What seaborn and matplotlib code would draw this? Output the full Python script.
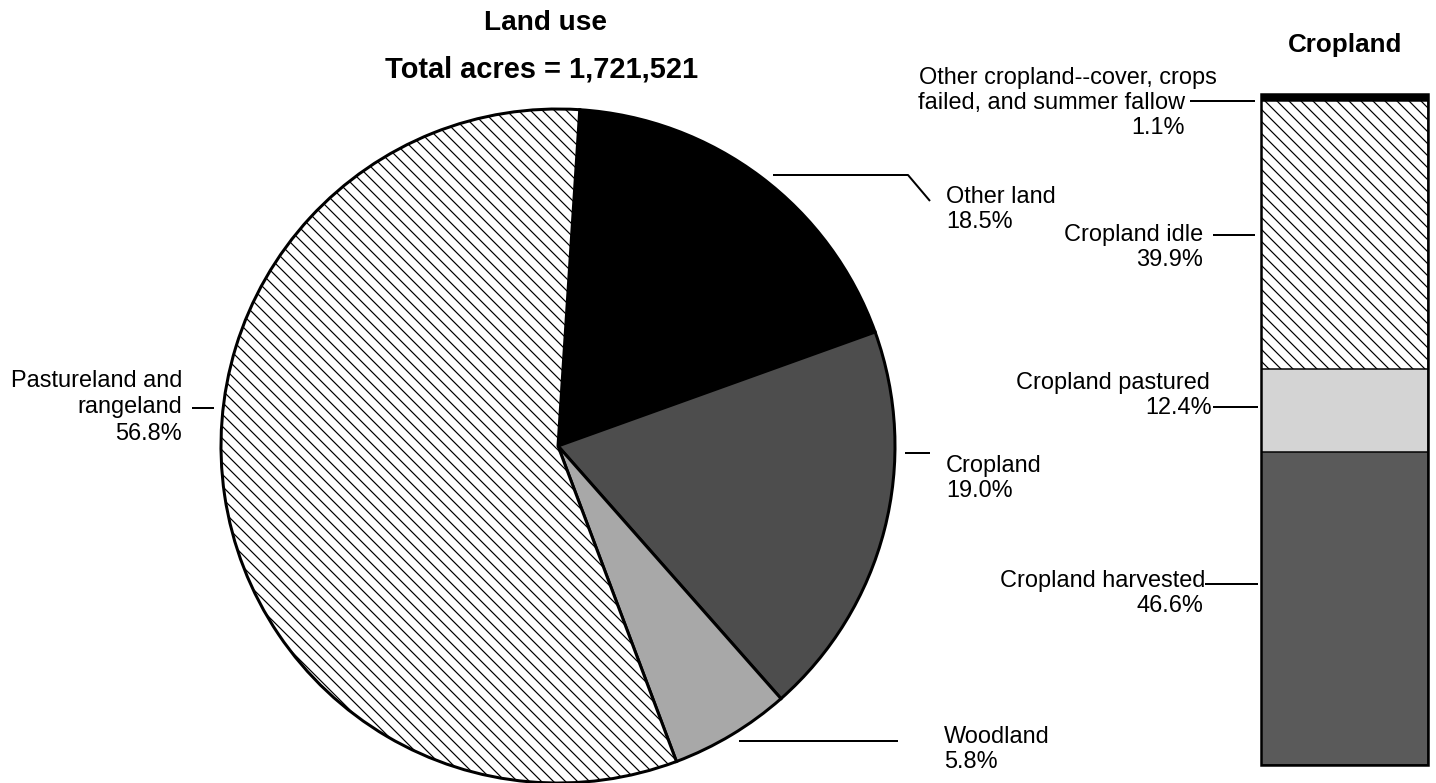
import matplotlib
matplotlib.use("Agg")
import matplotlib.pyplot as plt
import seaborn as sns
import numpy as np

# ---------------- data ----------------
pie_labels = ["Other land", "Cropland", "Woodland", "Pastureland and\nrangeland"]
pie_values = [18.5, 19.0, 5.8, 56.8]
total_acres = "1,721,521"

bar_labels = ["Cropland harvested", "Cropland pastured", "Cropland idle",
              "Other cropland--cover, crops failed, and summer fallow"]
bar_values = [46.6, 12.4, 39.9, 1.1]

# ---------------- style ----------------
sns.set_theme(style="white")
plt.rcParams["font.family"] = ["Liberation Sans", "DejaVu Sans"]
plt.rcParams["text.color"] = "black"
plt.rcParams["hatch.color"] = "#555555"
plt.rcParams["hatch.linewidth"] = 1.2

W, H, DPI = 1436, 783, 72
fig = plt.figure(figsize=(W / DPI, H / DPI), dpi=DPI)
fig.patch.set_facecolor("white")

def fx(x):
    return x / W

def fy(y):
    return 1 - y / H

# ---------------- pie ----------------
cx, cy, r = 558, 446, 337
ax_pie = fig.add_axes([fx(cx - r), fy(cy + r), 2 * r / W, 2 * r / H])
pie_colors = ["black", "#4d4d4d", "#a8a8a8", "white"]
pie_hatches = [None, None, None, "\\\\"]
wedges, _ = ax_pie.pie(pie_values, startangle=86.3, counterclock=False,
                       colors=pie_colors,
                       wedgeprops=dict(edgecolor="black", linewidth=3))
for w, h in zip(wedges, pie_hatches):
    if h:
        w.set_hatch(h)
ax_pie.set_xlim(-1, 1)
ax_pie.set_ylim(-1, 1)
ax_pie.axis("off")

# ---------------- stacked bar ----------------
bx0, bx1, by0, by1 = 1261, 1428, 94, 765
ax_bar = fig.add_axes([fx(bx0), fy(by1), (bx1 - bx0) / W, (by1 - by0) / H])
cum = np.cumsum(bar_values)
bar_colors = ["#5a5a5a", "#d4d4d4", "white", "black"]
bar_hatches = [None, None, "\\\\", None]
for i in range(len(bar_values) - 1, -1, -1):
    sns.barplot(x=["Cropland"], y=[cum[i]], color=bar_colors[i], saturation=1,
                width=1, edgecolor="black", linewidth=1.5,
                hatch=bar_hatches[i], ax=ax_bar)
ax_bar.set_xlim(-0.5, 0.5)
ax_bar.set_ylim(0, cum[-1])
ax_bar.axis("off")
ax_bar.add_patch(plt.Rectangle((0, 0), 1, 1, transform=ax_bar.transAxes,
                               fill=False, edgecolor="black", linewidth=2.5,
                               clip_on=False))

# ---------------- annotation layer (pixel coords) ----------------
ax = fig.add_axes([0, 0, 1, 1], facecolor="none")
ax.set_xlim(0, W)
ax.set_ylim(H, 0)
ax.axis("off")

fs = 23.5
tfs = 28
ax.text(545, 23, "Land use", ha="center", va="center", fontsize=tfs, fontweight="bold")
ax.text(542, 69, "Total acres = " + total_acres, ha="center", va="center",
        fontsize=tfs + 1, fontweight="bold")
ax.text(1345, 45, "Cropland", ha="center", va="center", fontsize=26, fontweight="bold")

def lbl(x, y, s, ha="left"):
    ax.text(x, y, s, ha=ha, va="center", fontsize=fs)

def line(xs, ys, lw=2):
    ax.plot(xs, ys, color="black", lw=lw, solid_capstyle="butt")

# pie labels
lbl(946, 197, pie_labels[0])
lbl(946, 222, f"{pie_values[0]:.1f}%")
line([773, 908, 930], [175, 175, 201])

lbl(946, 466, pie_labels[1])
lbl(946, 491, f"{pie_values[1]:.1f}%")
line([905, 930], [453, 453])

lbl(944, 737, pie_labels[2])
lbl(944, 762, f"{pie_values[2]:.1f}%")
line([739, 898], [741, 741])

lbl(182, 381, "Pastureland and", ha="right")
lbl(182, 407, "rangeland", ha="right")
lbl(182, 434, f"{pie_values[3]:.1f}%", ha="right")
line([192, 214], [408, 408])

# bar labels
lbl(1217, 78, "Other cropland--cover, crops", ha="right")
lbl(1185, 103, "failed, and summer fallow", ha="right")
lbl(1185, 128, f"{bar_values[3]:.1f}%", ha="right")
line([1190, 1255], [101, 101])

lbl(1203, 235, bar_labels[2], ha="right")
lbl(1203, 260, f"{bar_values[2]:.1f}%", ha="right")
line([1213, 1255], [235, 235])

lbl(1210, 383, bar_labels[1], ha="right")
lbl(1212, 408, f"{bar_values[1]:.1f}%", ha="right")
line([1213, 1258], [407, 407])

lbl(1205, 581, bar_labels[0], ha="right")
lbl(1203, 606, f"{bar_values[0]:.1f}%", ha="right")
line([1205, 1258], [584, 584])

fig.savefig("out.png", dpi=DPI, facecolor="white")
